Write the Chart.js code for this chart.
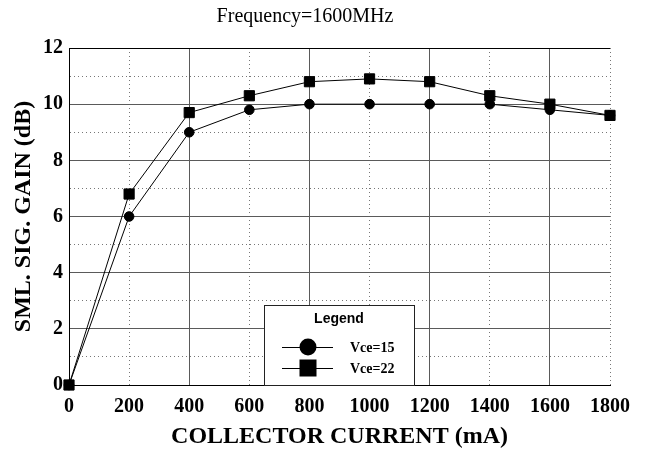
<!DOCTYPE html>
<html>
<head>
<meta charset="utf-8">
<script src="https://cdn.jsdelivr.net/npm/chart.js@4"></script>
<style>
  html, body { margin: 0; padding: 0; background: #fff; }
  #wrap { width: 648px; height: 453px; }
</style>
</head>
<body>
<div id="wrap"><canvas id="gainChart"></canvas></div>
<script>
// values
const current = [0, 200, 400, 600, 800, 1000, 1200, 1400, 1600, 1800];
const gainVce15 = [0, 6.0, 9.0, 9.8, 10.0, 10.0, 10.0, 10.0, 9.8, 9.6];
const gainVce22 = [0, 6.8, 9.7, 10.3, 10.8, 10.9, 10.8, 10.3, 10.0, 9.6];
const seriesNames = ['Vce=15', 'Vce=22'];
const yTicks = [0, 2, 4, 6, 8, 10, 12];

const serif = '"Liberation Serif", "Times New Roman", serif';

const toPoints = (ys) => current.map((x, i) => ({ x: x, y: ys[i] }));

// boxed legend in the lower middle of the plot
const boxLegend = {
    id: 'boxLegend',
    afterDraw(chart) {
        const { ctx, chartArea } = chart;
        const left = chartArea.left + 195;
        const w = 150, h = 80;
        const top = chartArea.bottom - h;
        ctx.save();
        ctx.fillStyle = '#fff';
        ctx.fillRect(left, top, w, h);
        ctx.strokeStyle = '#222';
        ctx.lineWidth = 1;
        ctx.strokeRect(left + 0.5, top + 0.5, w, h);

        ctx.fillStyle = '#000';
        ctx.font = 'bold 14px "Liberation Sans", Arial, sans-serif';
        ctx.textAlign = 'center';
        ctx.textBaseline = 'middle';
        ctx.fillText('Legend', left + 75, top + 14);

        const rows = [top + 42, top + 63];
        rows.forEach((y, i) => {
            ctx.strokeStyle = '#000';
            ctx.beginPath();
            ctx.moveTo(left + 18, y + 0.5);
            ctx.lineTo(left + 69, y + 0.5);
            ctx.stroke();
            ctx.fillStyle = '#000';
            const cx = left + 44;
            if (i === 0) {
                ctx.beginPath();
                ctx.arc(cx, y, 8.5, 0, Math.PI * 2);
                ctx.fill();
            } else {
                ctx.fillRect(cx - 8.5, y - 8.5, 17, 17);
            }
            ctx.font = 'bold 14px ' + serif;
            ctx.textAlign = 'left';
            ctx.fillText(seriesNames[i], left + 86, y + 1);
        });
        ctx.restore();
    }
};

const solidGrid = '#5a5a5a';
const dotGrid = '#777';

const ctx = document.getElementById('gainChart').getContext('2d');
const gainChart = new Chart(ctx, {
    type: 'line',
    data: {
        datasets: [{
            label: seriesNames[0],
            data: toPoints(gainVce15),
            borderColor: '#000',
            backgroundColor: '#000',
            borderWidth: 1,
            pointStyle: 'circle',
            pointRadius: 4.8,
            pointHoverRadius: 4.8,
            tension: 0,
            clip: false,
            order: 1
        }, {
            label: seriesNames[1],
            data: toPoints(gainVce22),
            borderColor: '#000',
            backgroundColor: '#000',
            borderWidth: 1,
            pointStyle: 'rect',
            pointRadius: 7.2,
            pointHoverRadius: 7.2,
            tension: 0,
            clip: false,
            order: 0
        }]
    },
    options: {
        responsive: true,
        maintainAspectRatio: false,
        animation: false,
        events: [],
        layout: { padding: { top: 0, right: 38, bottom: 0, left: 0 } },
        plugins: {
            legend: { display: false },
            tooltip: { enabled: false },
            title: {
                display: true,
                text: 'Frequency=1600MHz',
                color: '#000',
                font: { family: serif, size: 20, weight: 'normal' },
                padding: { top: 5, bottom: 19 }
            }
        },
        scales: {
            x: {
                type: 'linear',
                min: 0,
                max: 1800,
                afterFit: (s) => { s.height = 68; },
                ticks: {
                    stepSize: 200,
                    color: '#000',
                    padding: 10,
                    maxRotation: 0,
                    font: { family: serif, size: 20, weight: 'bold' },
                    callback: (v) => String(v)
                },
                grid: {
                    drawTicks: false,
                    color: (c) => (c.tick && c.tick.value % 400 === 0) ? solidGrid : dotGrid
                },
                border: {
                    color: '#000',
                    dash: (c) => (c.tick && c.tick.value % 400 !== 0) ? [1, 3] : []
                },
                title: {
                    display: true,
                    text: 'COLLECTOR CURRENT (mA)',
                    color: '#000',
                    font: { family: serif, size: 24, weight: 'bold' },
                    padding: { top: 0, bottom: 2 }
                }
            },
            y: {
                min: 0,
                max: 12,
                afterFit: (s) => { s.width = 69; },
                ticks: {
                    stepSize: 1,
                    color: '#000',
                    padding: 6,
                    font: { family: serif, size: 20, weight: 'bold' },
                    callback: (v) => yTicks.includes(v) ? String(v) : ''
                },
                grid: {
                    drawTicks: false,
                    color: (c) => {
                        if (!c.tick) return solidGrid;
                        if (c.tick.value === 12) return '#000';
                        return c.tick.value % 2 === 0 ? solidGrid : dotGrid;
                    }
                },
                border: {
                    color: '#000',
                    dash: (c) => (c.tick && c.tick.value % 2 !== 0) ? [1, 3] : []
                },
                title: {
                    display: true,
                    text: 'SML. SIG. GAIN (dB)',
                    color: '#000',
                    font: { family: serif, size: 24, weight: 'bold' },
                    padding: { top: 9, bottom: 0 }
                }
            }
        }
    },
    plugins: [boxLegend]
});
</script>
</body>
</html>
